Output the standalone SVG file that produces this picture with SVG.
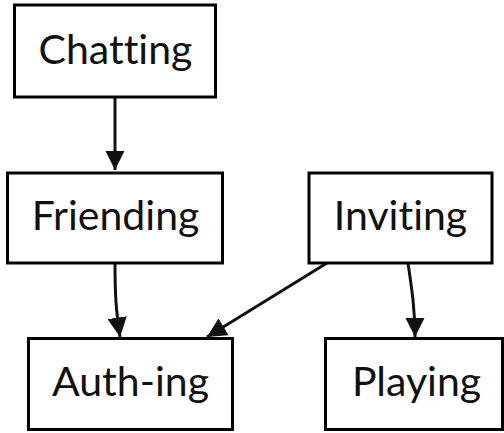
<svg xmlns="http://www.w3.org/2000/svg" width="504" height="433" viewBox="0 0 504 433">
<style>
.box{fill:#fff;stroke:#000;stroke-width:3}
.lbl{font-family:Lato,"Open Sans",sans-serif;font-size:41px;fill:#111;text-anchor:middle;font-variant-ligatures:none}
.edge{fill:none;stroke:#111;stroke-width:3}
</style>
<defs>
<marker id="ah" viewBox="0 0 10 10" refX="10" refY="5" markerWidth="6.5" markerHeight="6.5" markerUnits="strokeWidth" orient="auto">
<path d="M0,0 L10,5 L0,10 z" fill="#111"/>
</marker>
</defs>
<rect width="504" height="433" fill="#fff"/>
<g id="edges">
<path class="edge" d="M115,97 L115,170" marker-end="url(#ah)"/>
<path class="edge" d="M115,263 C115,295 116,310 120,337" marker-end="url(#ah)"/>
<path class="edge" d="M327,263 L207,337" marker-end="url(#ah)"/>
<path class="edge" d="M408,263 C412,290 415,310 415,337" marker-end="url(#ah)"/>
</g>
<g id="chatting"><rect class="box" x="14.5" y="5" width="201" height="92"/><text class="lbl" x="115.5" y="64">Chatting</text></g>
<g id="friending"><rect class="box" x="7.5" y="173" width="215" height="90"/><text class="lbl" x="115.5" y="230">Friending</text></g>
<g id="inviting"><rect class="box" x="309" y="173" width="183" height="90"/><text class="lbl" x="400.5" y="230">Inviting</text></g>
<g id="authing"><rect class="box" x="28.5" y="338.5" width="204" height="91"/><text class="lbl" x="130.5" y="396">Auth-ing</text></g>
<g id="playing"><rect class="box" x="325.5" y="338.5" width="177" height="91"/><text class="lbl" x="416.5" y="396">Playing</text></g>
</svg>
